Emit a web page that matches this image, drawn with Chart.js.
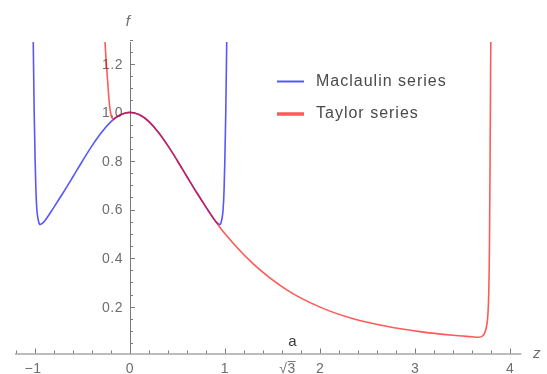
<!DOCTYPE html>
<html>
<head>
<meta charset="utf-8">
<script src="https://cdn.jsdelivr.net/npm/chart.js@4"></script>
<style>
  body { margin: 0; background: #fff; }
  canvas { display: block; }
</style>
</head>
<body>
<canvas id="grafico" width="547" height="374"></canvas>
<script>
// values
const maclaurinZ = [-1.018, -1.008, -0.998, -0.99, -0.98, -0.967, -0.955, -0.945, -0.93, -0.9, -0.8, -0.7, -0.6, -0.5, -0.4, -0.3, -0.2, -0.1, 0,
  0.1, 0.2, 0.3, 0.4, 0.5, 0.6, 0.7, 0.8, 0.9, 0.93, 0.945, 0.955, 0.967, 0.98, 0.99, 0.998, 1.008, 1.018];
const maclaurinF = [1.29, 1.0, 0.80, 0.68, 0.60, 0.56, 0.542, 0.538, 0.541, 0.552, 0.61, 0.671, 0.735, 0.8, 0.862, 0.917, 0.962, 0.99, 1.0,
  0.99, 0.962, 0.917, 0.862, 0.8, 0.735, 0.671, 0.61, 0.552, 0.541, 0.538, 0.542, 0.56, 0.60, 0.68, 0.80, 1.0, 1.29];

const taylorZ = [-0.263, -0.252, -0.239, -0.228, -0.218, -0.205, -0.19, -0.17, -0.14, -0.1, 0, 0.1, 0.2, 0.3, 0.4, 0.5, 0.6, 0.7, 0.8, 0.9, 1.0,
  1.3, 1.65, 2.0, 2.35, 2.7, 3.05, 3.4, 3.6, 3.67, 3.71, 3.73, 3.75, 3.765, 3.775, 3.783, 3.79, 3.797];
const taylorF = [1.29, 1.22, 1.15, 1.09, 1.04, 1.0, 0.978, 0.974, 0.981, 0.99, 1.0, 0.99, 0.962, 0.917, 0.862, 0.8, 0.735, 0.671, 0.61, 0.552, 0.5,
  0.375, 0.269, 0.198, 0.15, 0.119, 0.097, 0.082, 0.076, 0.074, 0.079, 0.09, 0.115, 0.16, 0.25, 0.45, 0.85, 1.29];

const seriesNames = ["Maclaulin series", "Taylor series"];

const xTicks = [-1, 0, 1, 2, 3, 4];
const xTickLabels = ["\u22121", "0", "1", "2", "3", "4"];
const yTicks = [0.2, 0.4, 0.6, 0.8, 1.0, 1.2];
const yTickLabels = ["0.2", "0.4", "0.6", "0.8", "1.0", "1.2"];

const puntoA = 1.732; // sqrt(3)

const azul = "rgba(40,40,255,0.78)";
const rojo = "rgba(255,0,0,0.65)";

function puntos(xs, ys) {
  return xs.map((x, i) => ({ x: x, y: ys[i] }));
}

// axes drawn Mathematica-style: crossing at origin, ticks pointing inward
const ejes = {
  id: "ejes",
  beforeDatasetsDraw(chart) {
    const ctx = chart.ctx;
    const xs = chart.scales.x, ys = chart.scales.y;
    const area = chart.chartArea;
    const x0 = xs.getPixelForValue(0);
    const yb = area.bottom;

    ctx.save();
    ctx.strokeStyle = "#7a7a7a";
    ctx.lineWidth = 1;
    ctx.beginPath();
    ctx.moveTo(area.left, yb + 0.5);
    ctx.lineTo(area.right, yb + 0.5);
    ctx.moveTo(Math.round(x0) + 0.5, yb);
    ctx.lineTo(Math.round(x0) + 0.5, area.top);
    ctx.stroke();

    // x ticks
    ctx.beginPath();
    for (let v = -1.2; v <= xs.max + 1e-9; v += 0.2) {
      const px = Math.round(xs.getPixelForValue(v)) + 0.5;
      const mayor = xTicks.some(t => Math.abs(t - v) < 1e-6);
      ctx.moveTo(px, yb);
      ctx.lineTo(px, yb - (mayor ? 5 : 3));
    }
    // y ticks
    for (let v = 0.05; v <= ys.max + 0.011; v += 0.05) {
      const py = Math.round(ys.getPixelForValue(v)) + 0.5;
      const mayor = yTicks.some(t => Math.abs(t - v) < 1e-6);
      ctx.moveTo(x0, py);
      ctx.lineTo(x0 + (mayor ? 5 : 3), py);
    }
    ctx.stroke();

    ctx.fillStyle = "#6e6e6e";
    ctx.font = "14px 'Liberation Sans', Arial, sans-serif";
    ctx.letterSpacing = "0.5px";
    ctx.textAlign = "center";
    ctx.textBaseline = "alphabetic";
    xTicks.forEach((t, i) => {
      ctx.fillText(xTickLabels[i], xs.getPixelForValue(t) - (t < 0 ? 2 : 0), 373);
    });
    ctx.textAlign = "right";
    ctx.textBaseline = "middle";
    yTicks.forEach((t, i) => {
      ctx.fillText(yTickLabels[i], x0 - 7, ys.getPixelForValue(t) + 1);
    });

    // sqrt(3) marker
    const pa = xs.getPixelForValue(puntoA);
    ctx.textAlign = "center";
    ctx.textBaseline = "alphabetic";
    ctx.fillText("\u221A3", pa - 7, 373);
    ctx.beginPath();
    ctx.moveTo(pa - 7, 361.5);
    ctx.lineTo(pa + 1, 361.5);
    ctx.stroke();
    ctx.fillStyle = "#3a3a3a";
    ctx.font = "15px 'Liberation Sans', Arial, sans-serif";
    ctx.fillText("a", pa - 2, 346);

    // axis names
    ctx.fillStyle = "#6e6e6e";
    ctx.font = "italic 15px 'Liberation Sans', Arial, sans-serif";
    ctx.fillText("f", x0 - 2, 26);
    ctx.fillText("z", 537, 358);
    ctx.restore();
  },
  afterDraw(chart) {
    const ctx = chart.ctx;
    const colores = [azul, rojo];
    const grosores = [2, 3.5];
    const filas = [81.5, 114];
    ctx.save();
    ctx.font = "16px 'Liberation Sans', Arial, sans-serif";
    ctx.letterSpacing = "1px";
    ctx.textAlign = "left";
    ctx.textBaseline = "middle";
    seriesNames.forEach((n, i) => {
      ctx.strokeStyle = colores[i];
      ctx.lineWidth = grosores[i];
      ctx.beginPath();
      ctx.moveTo(277, filas[i]);
      ctx.lineTo(304, filas[i]);
      ctx.stroke();
      ctx.fillStyle = "#4a4a4a";
      ctx.fillText(n, 316, filas[i]);
    });
    ctx.restore();
  }
};

new Chart(document.getElementById("grafico"), {
  type: "scatter",
  data: {
    datasets: [
      {
        label: seriesNames[0],
        data: puntos(maclaurinZ, maclaurinF),
        showLine: true,
        borderColor: azul,
        borderWidth: 1.6,
        pointRadius: 0,
        cubicInterpolationMode: "monotone",
        order: 2
      },
      {
        label: seriesNames[1],
        data: puntos(taylorZ, taylorF),
        showLine: true,
        borderColor: rojo,
        borderWidth: 1.6,
        pointRadius: 0,
        cubicInterpolationMode: "monotone",
        order: 1
      }
    ]
  },
  options: {
    responsive: false,
    animation: false,
    layout: { padding: { left: 15, right: 25.5, top: 42, bottom: 20.5 } },
    scales: {
      x: { type: "linear", min: -1.21, max: 4.12, display: false },
      y: { type: "linear", min: 0.007, max: 1.29, display: false }
    },
    plugins: {
      legend: { display: false },
      tooltip: { enabled: false }
    }
  },
  plugins: [ejes]
});
</script>
</body>
</html>
